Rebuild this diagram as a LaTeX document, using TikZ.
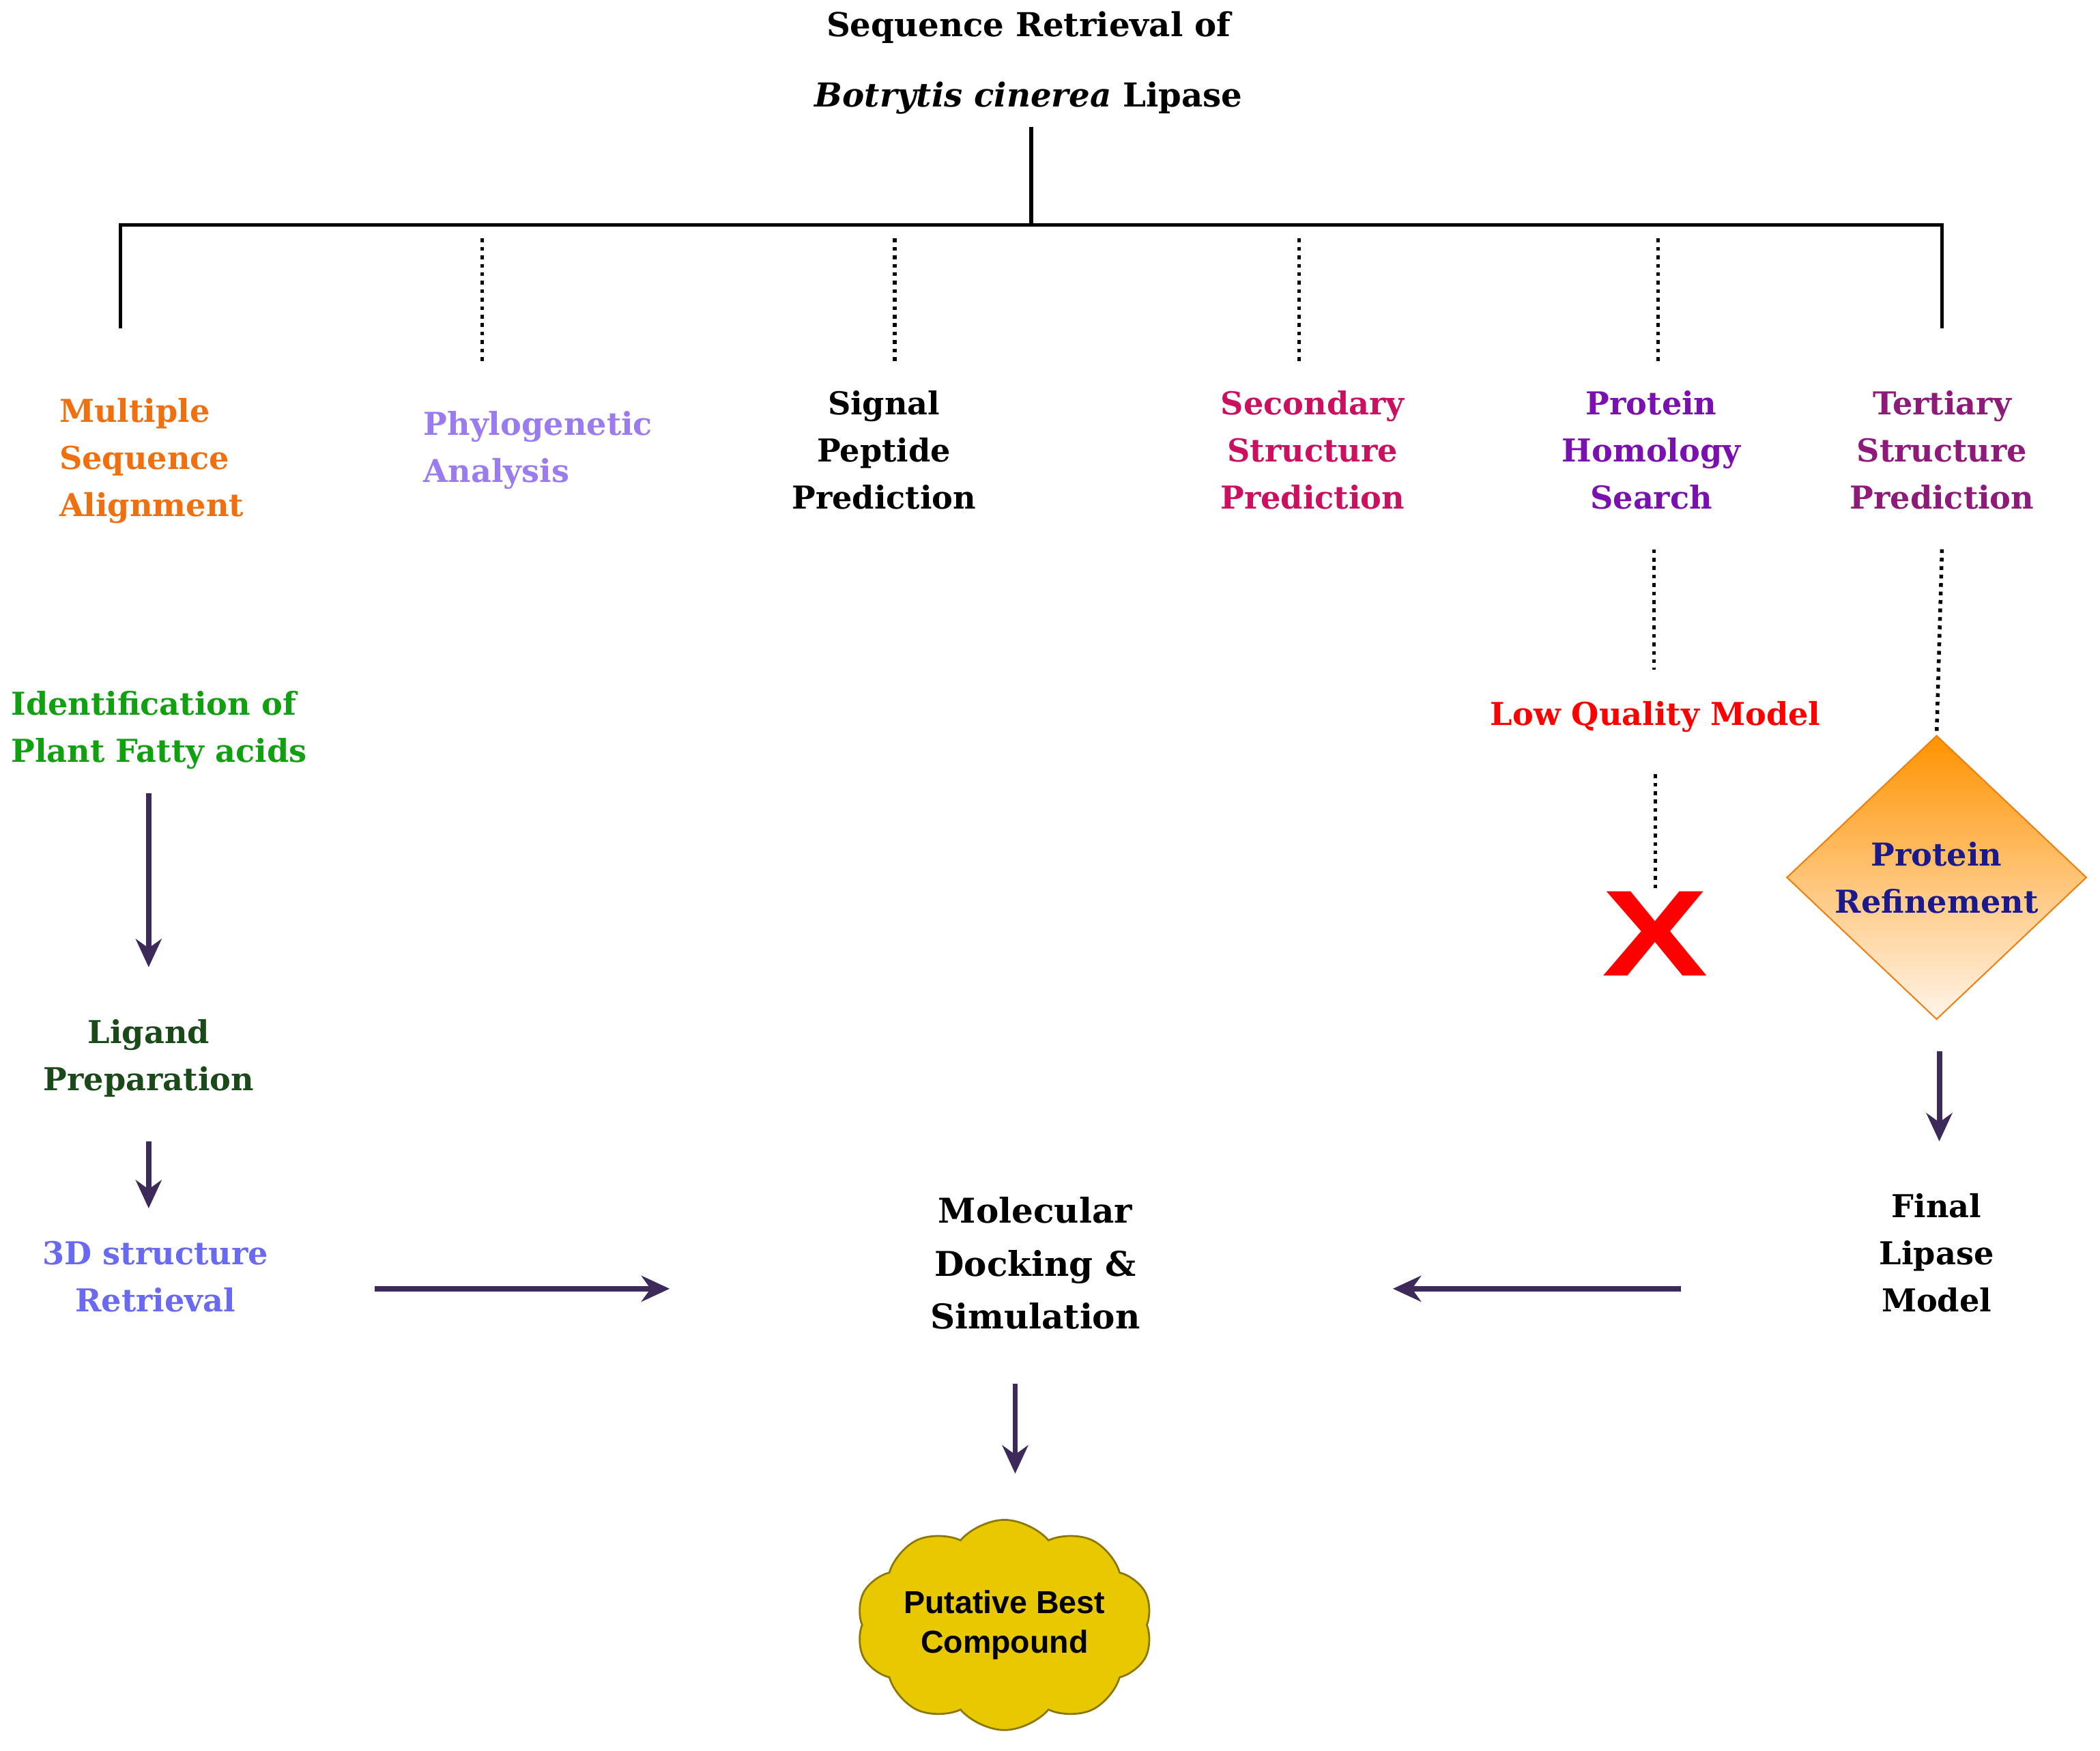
\documentclass[tikz,border=0pt]{standalone}
\usepackage{fontspec}
\setmainfont{DejaVu Serif}
\newfontfamily\sansf{Liberation Sans}
\usetikzlibrary{shapes.geometric,shapes.symbols,arrows.meta}
\definecolor{arr}{HTML}{3E2A5A}
\definecolor{orangeT}{HTML}{F07010}
\definecolor{lavT}{HTML}{9A7CF0}
\definecolor{crimT}{HTML}{CC1060}
\definecolor{purpT}{HTML}{7A10B0}
\definecolor{tertT}{HTML}{8E1A7A}
\definecolor{blueT}{HTML}{6A6AF0}
\definecolor{greenT}{HTML}{10A010}
\definecolor{dgreenT}{HTML}{1A4A1A}
\definecolor{navyT}{HTML}{1A1A8C}
\begin{document}
\begin{tikzpicture}[x={(0.02cm,0)},y={(0,-0.02cm)},
  lbl/.style={font=\fontsize{13.4}{20}\selectfont\bfseries,align=center,inner sep=0pt},
  lbll/.style={lbl,align=left,anchor=west},
  tree/.style={line width=1.6pt,black},
  dot/.style={line width=1.6pt,dotted,black},
  arrw/.style={line width=2.3pt,arr,-{Stealth[length=12pt,width=11pt]}}]
\useasboundingbox (0,0) rectangle (1568,1307);
\node[lbl,font=\fontsize{14}{28}\selectfont\bfseries] (title) at (768,47) {Sequence Retrieval of\\[2pt]\textit{Botrytis cinerea} Lipase};
\coordinate (t0) at (770,95); \coordinate (t1) at (770,168);
\coordinate (hl) at (90,168); \coordinate (hr) at (1450,168);
\coordinate (l1) at (90,245); \coordinate (r1) at (1450,245);
\draw[tree] (t0) -- (t1);
\draw[tree] (l1) -- (hl) -- (hr) -- (r1);
\foreach \x/\n in {360/a,668/b,970/c,1238/d}{
  \coordinate (d\n1) at (\x,178); \coordinate (d\n2) at (\x,270);
  \draw[dot] (d\n1) -- (d\n2);}
\node[lbll,text=orangeT] (msa) at (44,344) {Multiple\\Sequence\\Alignment};
\node[lbll,text=lavT] (phy) at (316,336) {Phylogenetic\\Analysis};
\node[lbl] (sig) at (660,336) {Signal\\Peptide\\Prediction};
\node[lbl,text=crimT] (sec) at (980,336) {Secondary\\Structure\\Prediction};
\node[lbl,text=purpT] (hom) at (1233,336) {Protein\\Homology\\Search};
\node[lbl,text=tertT] (ter) at (1450,336) {Tertiary\\Structure\\Prediction};
\coordinate (h1) at (1235,410); \coordinate (h2) at (1235,500);
\draw[dot] (h1) -- (h2);
\node[lbl,text=red] (low) at (1236,535) {Low Quality Model};
\coordinate (h3) at (1236,578); \coordinate (h4) at (1236,665);
\draw[dot] (h3) -- (h4);
\node[lbl,font=\sansf\bfseries\fontsize{52}{52}\selectfont,text=red,xscale=1.3] (x) at (1236,697) {X};
\node[diamond,minimum width=224*0.02cm,minimum height=212*0.02cm,inner sep=0pt,
  top color=orange!85!yellow,bottom color=orange!8,draw=orange!70!brown,line width=0.6pt,
  lbl,text=navyT] (ref) at (1446,655) {Protein\\Refinement};
\coordinate (tt) at (1450,410);
\draw[dot] (tt) -- (ref.north);
\coordinate (fa) at (1448,785); \coordinate (fb) at (1448,852);
\draw[arrw] (fa) -- (fb);
\node[lbl] (fin) at (1446,935) {Final\\Lipase\\Model};
\node[lbl,font=\fontsize{14.5}{22.5}\selectfont\bfseries] (mol) at (773,943) {Molecular\\Docking \&\\Simulation};
\coordinate (ra) at (1255,962); \coordinate (rb) at (1040,962);
\draw[arrw] (ra) -- (rb);
\node[lbl,text=blueT] (r3d) at (116,953) {3D structure\\Retrieval};
\coordinate (la) at (280,962); \coordinate (lb) at (500,962);
\draw[arrw] (la) -- (lb);
\node[lbll,text=greenT] (id) at (8,545) {Identification of\\Plant Fatty acids};
\coordinate (ia) at (111,592); \coordinate (ib) at (111,722);
\draw[arrw] (ia) -- (ib);
\node[lbl,text=dgreenT] (lig) at (111,790) {Ligand\\Preparation};
\coordinate (ga) at (111,852); \coordinate (gb) at (111,902);
\draw[arrw] (ga) -- (gb);
\coordinate (ma) at (758,1033); \coordinate (mb) at (758,1100);
\draw[arrw] (ma) -- (mb);
\node[cloud,cloud puffs=10,cloud puff arc=100,aspect=1.6,minimum width=175*0.02cm,minimum height=115*0.02cm,
  inner sep=0pt,fill={rgb,255:red,232;green,200;blue,0},draw={rgb,255:red,140;green,120;blue,0},line width=0.8pt,
  font=\sansf\bfseries\fontsize{13.5}{17}\selectfont,align=center] (cl) at (750,1213) {Putative Best\\Compound};
\end{tikzpicture}
\end{document}
